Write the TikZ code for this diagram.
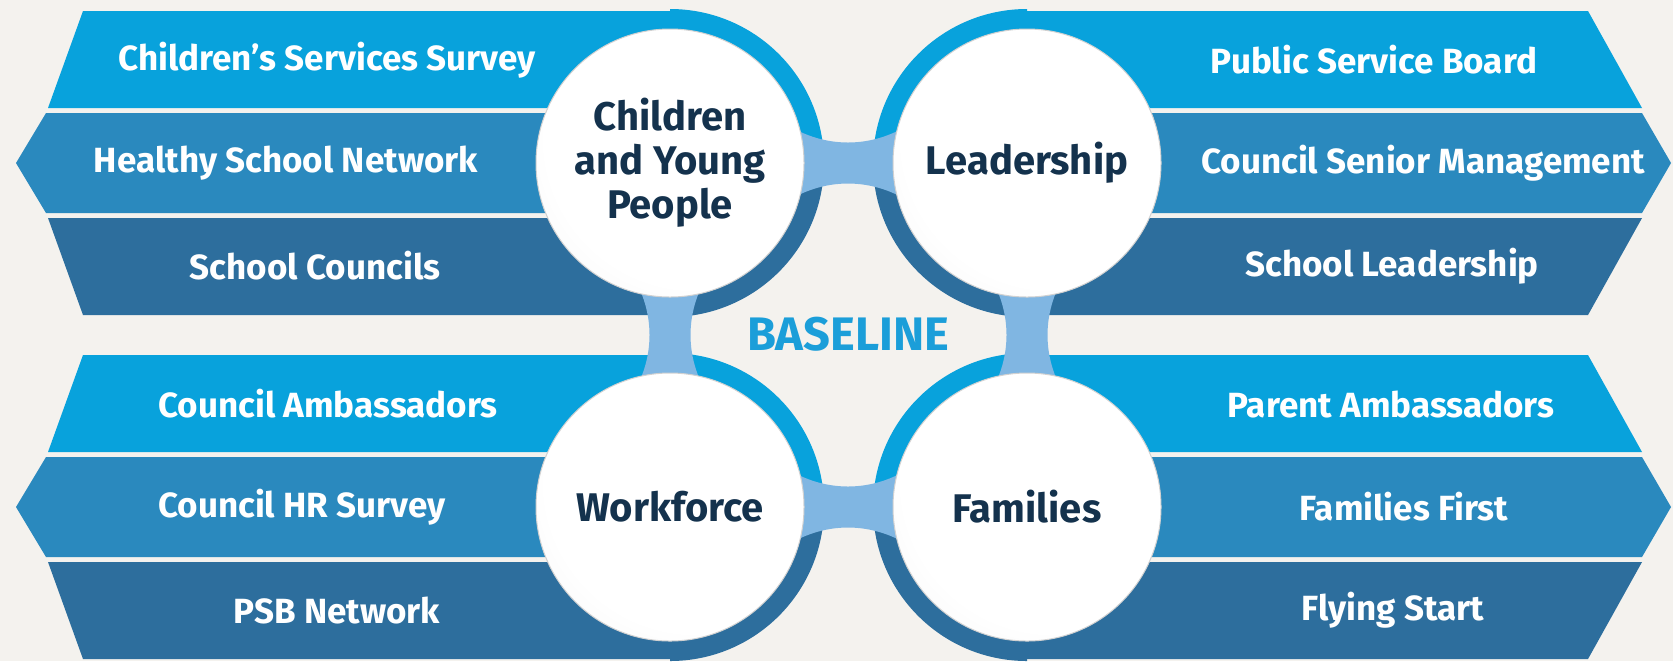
\documentclass[tikz,border=0pt]{standalone}
\usepackage{fontspec}
\setmainfont{Fira Sans}
\usetikzlibrary{calc}
\definecolor{bg}{HTML}{F4F2EE}
\definecolor{cA}{HTML}{08A2DC}
\definecolor{cB}{HTML}{2A89BE}
\definecolor{cC}{HTML}{2D6E9D}
\definecolor{bridgec}{HTML}{80B6E2}
\definecolor{navy}{HTML}{14324D}
\definecolor{basec}{HTML}{1B9ED9}
\pgfdeclareradialshading{circsh}{\pgfpoint{9bp}{9bp}}{color(0bp)=(white); color(28bp)=(white); color(42bp)=(black!5); color(50bp)=(black!13); color(60bp)=(black!16)}
\begin{document}
\begin{tikzpicture}[x=0.5pt,y=-0.5pt,
  lbl/.style={text=white, font=\bfseries\fontsize{17.5}{20}\selectfont, inner sep=0pt},
  circ/.style={circle, minimum size=134pt, inner sep=0pt, shading=circsh,
    draw=black!18, line width=0.5pt, align=center, text=navy, font=\bfseries\fontsize{20}{22}\selectfont},
  bridge/.style={fill=bridgec},
  ringA/.style={fill=cA}, ringC/.style={fill=cC}]
\fill[bg] (0,0) rectangle (1673,661);
\useasboundingbox (0,0) rectangle (1673,661);
\coordinate (pC) at (670,163);
\coordinate (pL) at (1027,163);
\coordinate (pW) at (670,507);
\coordinate (pF) at (1027,507);
% rings
\foreach \p/\dy in {pC/0,pW/344}{
  \begin{scope}\clip (670,\dy) rectangle (830,163+\dy); \fill[ringA] (\p) circle[radius=154]; \end{scope}
  \begin{scope}\clip (670,163+\dy) rectangle (830,330+\dy); \fill[ringC] (\p) circle[radius=154]; \end{scope}
}
\foreach \p/\dy in {pL/0,pF/344}{
  \begin{scope}\clip (860,\dy) rectangle (1027,163+\dy); \fill[ringA] (\p) circle[radius=154]; \end{scope}
  \begin{scope}\clip (860,163+\dy) rectangle (1027,330+\dy); \fill[ringC] (\p) circle[radius=154]; \end{scope}
}
% banner rows
\foreach \dy in {0,344}{
\begin{scope}[shift={(0,\dy)}]
\fill[cA] (83,11) -- (670,11) -- (670,108) -- (48,108) -- cycle;
\fill[cB] (46,113) -- (670,113) -- (670,213) -- (46,213) -- (16,163) -- cycle;
\fill[cC] (48,218) -- (670,218) -- (670,315) -- (83,315) -- cycle;
\fill[cA] (1027,11) -- (1588,11) -- (1642,108) -- (1027,108) -- cycle;
\fill[cB] (1027,113) -- (1642,113) -- (1671,163) -- (1642,213) -- (1027,213) -- cycle;
\fill[cC] (1027,218) -- (1642,218) -- (1588,315) -- (1027,315) -- cycle;
\end{scope}}
% bridges
\foreach \p in {pC,pW}{
  \fill[bridge, shift={(\p)}] (110,-43) .. controls (152,-13) and (204,-13) .. (246,-43)
     -- (246,43) .. controls (204,13) and (152,13) .. (110,43) -- cycle;}
\foreach \p in {pC,pL}{
  \fill[bridge, shift={(\p)}] (-43,104) .. controls (-13,146) and (-13,198) .. (-43,240)
     -- (43,240) .. controls (13,198) and (13,146) .. (43,104) -- cycle;}
% circles
\node[circ] (cyp) at (pC) {Children\\and Young\\People};
\node[circ] (lead) at (pL) {Leadership};
\node[circ] (work) at (pW) {Workforce};
\node[circ] (fam) at (pF) {Families};
\node[text=basec, font=\bfseries\fontsize{23.5}{26}\selectfont] (base) at (848,334) {BASELINE};
% labels
\node[lbl] (l1) at (327,60) {Children’s Services Survey};
\node[lbl] (l2) at (286,163) {Healthy School Network};
\node[lbl] (l3) at (315,266) {School Councils};
\node[lbl] (l4) at (328,404) {Council Ambassadors};
\node[lbl] (l5) at (302,507) {Council HR Survey};
\node[lbl] (l6) at (337,610) {PSB Network};
\node[lbl] (r1) at (1374,60) {Public Service Board};
\node[lbl] (r2) at (1423,163) {Council Senior Management};
\node[lbl] (r3) at (1392,266) {School Leadership};
\node[lbl] (r4) at (1391,404) {Parent Ambassadors};
\node[lbl] (r5) at (1404,507) {Families First};
\node[lbl] (r6) at (1393,610) {Flying Start};
\end{tikzpicture}
\end{document}
